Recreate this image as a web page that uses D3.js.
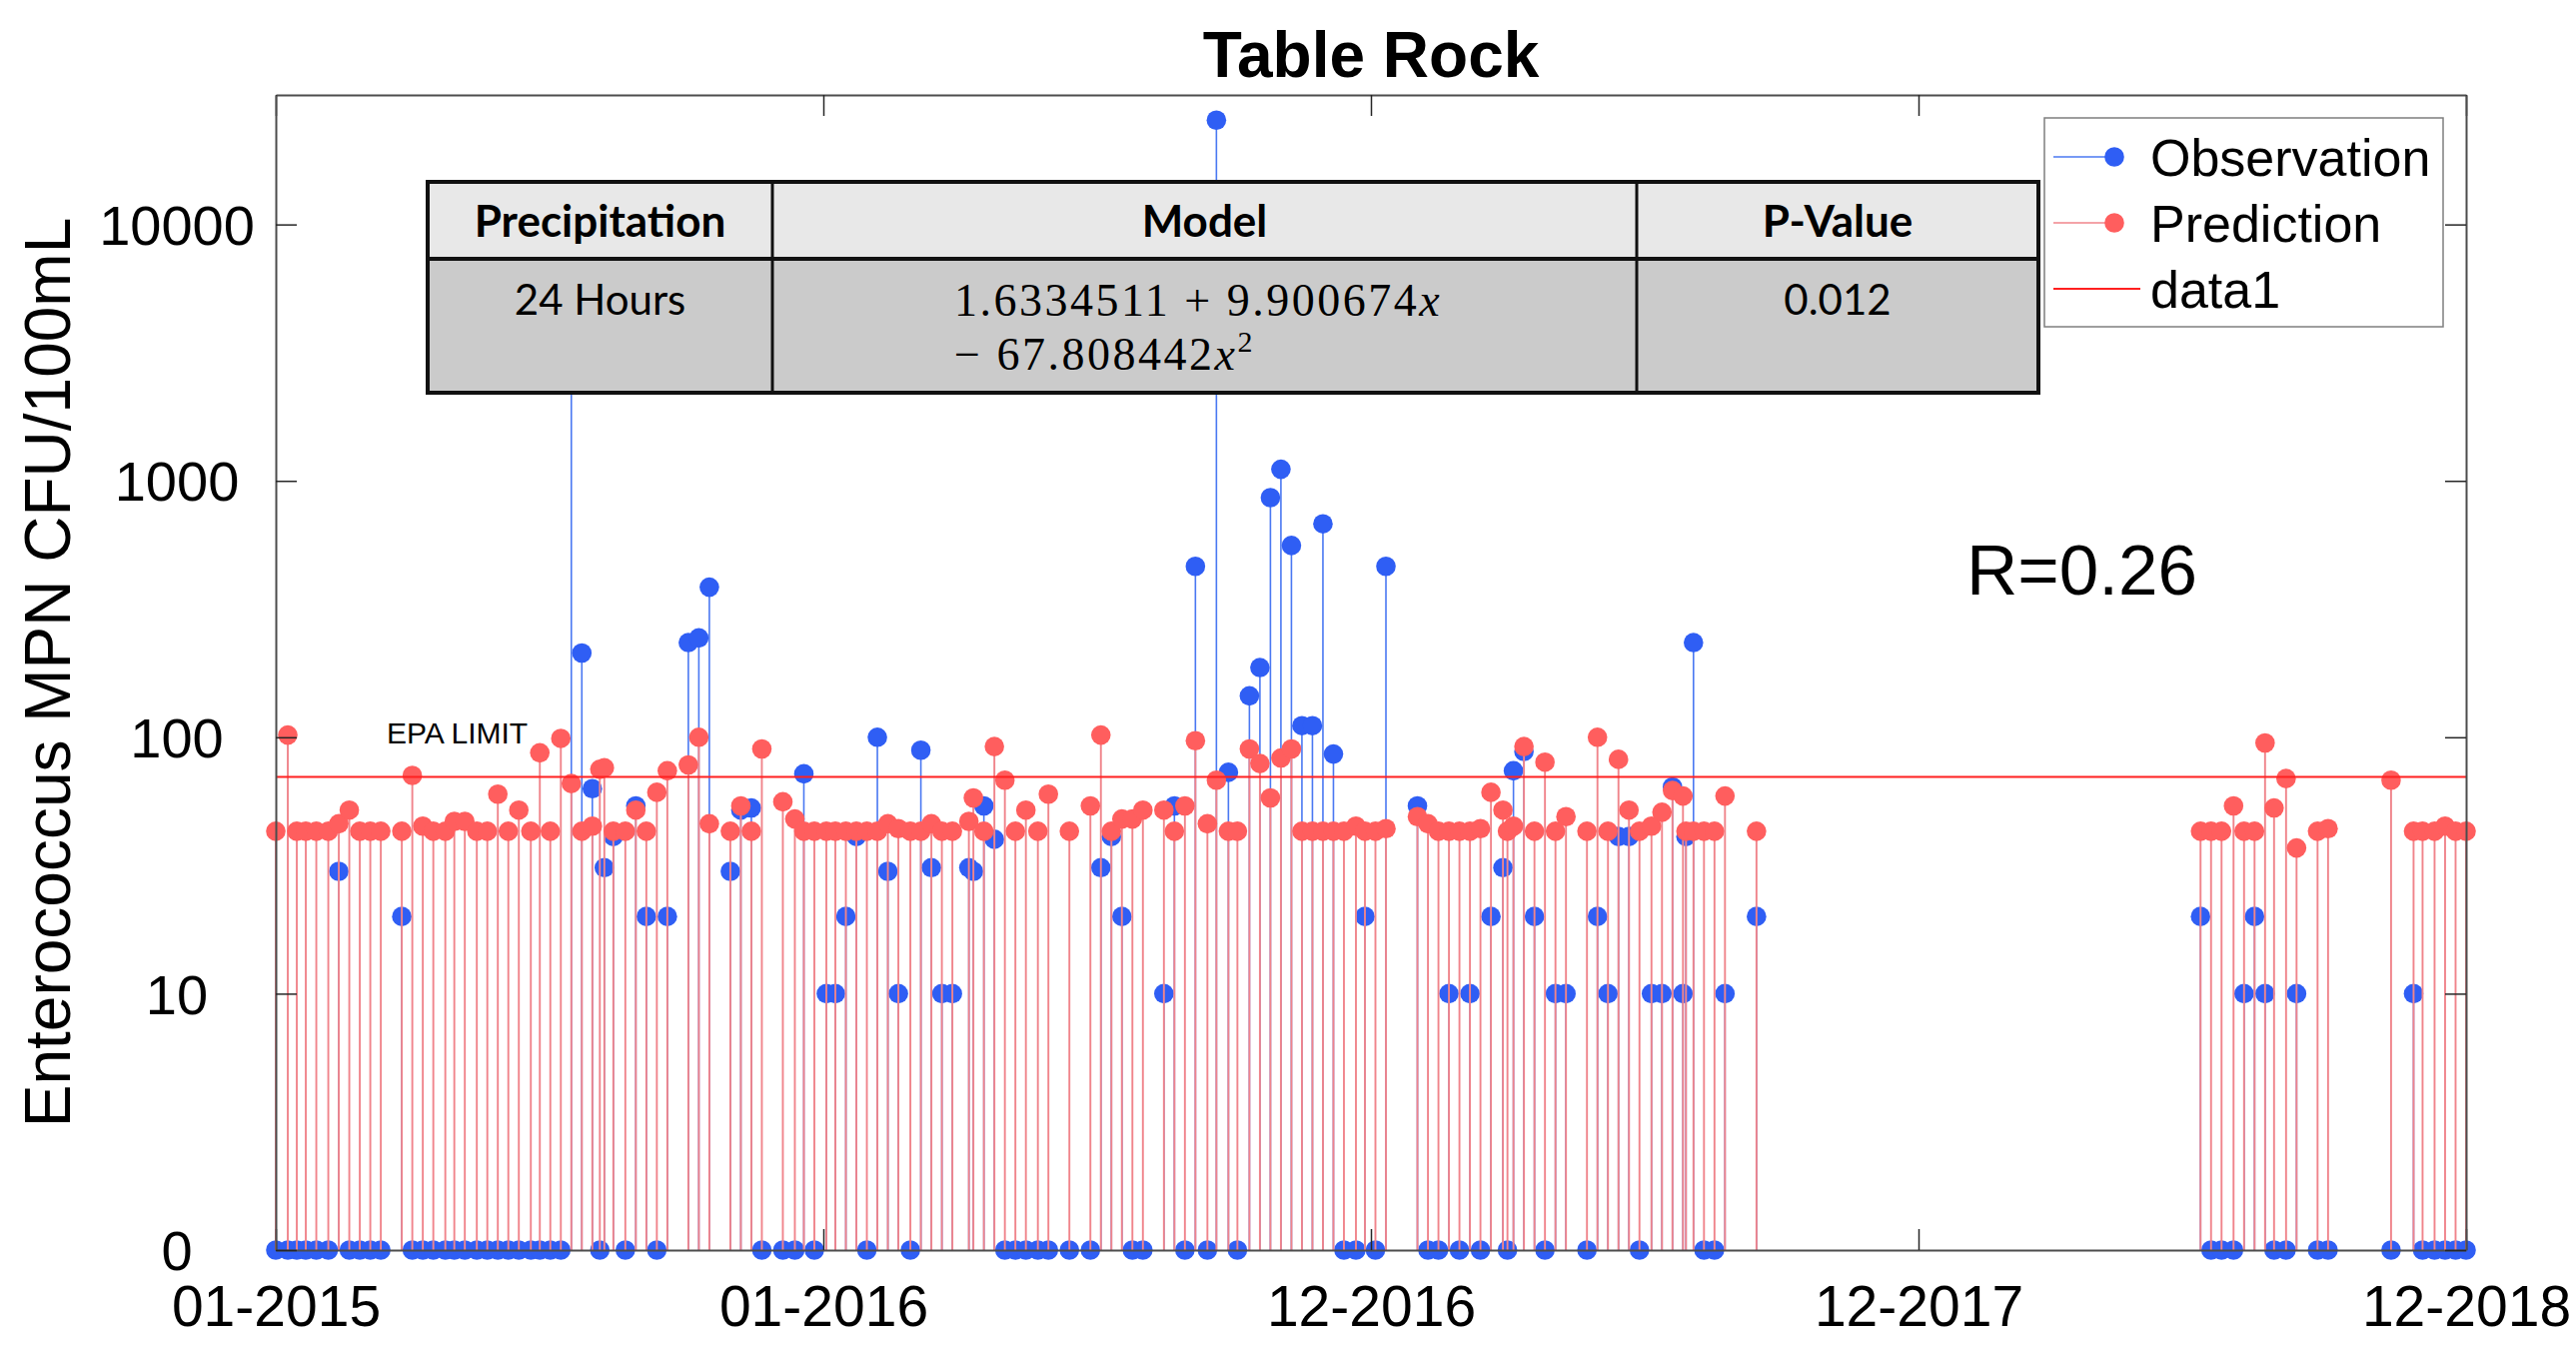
<!DOCTYPE html>
<html>
<head>
<meta charset="utf-8">
<script src="https://cdn.jsdelivr.net/npm/d3@7"></script>
<style>
  body { margin: 0; background: #fff; }
  svg { display: block; font-family: "Liberation Sans", Arial, sans-serif; }
</style>
</head>
<body>
<svg id="chart" width="2578" height="1348"></svg>
<script>
// jours d'échantillonnage (jours depuis le 01-01-2015)
var sampleDay = [
  0, 8, 14, 20, 27, 35, 42, 49, 56, 63, 70, 84, 91, 98, 105, 113, 119, 126, 134, 141,
  148, 155, 162, 170, 176, 183, 190, 197, 204, 211, 216, 219, 225, 233, 240, 247, 254, 261, 275, 282,
  289, 303, 310, 317, 324, 338, 346, 352, 359, 367, 373, 380, 387, 394, 401, 408, 415, 423, 430, 437,
  444, 451, 462, 465, 472, 479, 486, 493, 500, 508, 515, 529, 543, 550, 557, 564,
  571, 578, 592, 599, 606, 613, 621, 627, 635, 641, 649, 656, 663, 670, 677, 684, 691, 698, 705, 712,
  720, 726, 733, 740, 761, 768, 775, 782, 789, 796, 803, 810, 818, 821, 825, 832, 839, 846,
  853, 860, 874, 881, 888, 895, 902, 909, 917, 924, 931, 938, 940, 945, 952, 959, 966, 987,
  1283, 1290, 1297, 1305, 1312, 1319, 1326, 1332, 1340, 1347, 1361, 1368, 1410, 1425, 1431, 1439, 1446, 1453, 1460
];
// observations (0 = non détecté, dessiné sur la ligne de base)
var observed = [
  0, 0, 0, 0, 0, 0, 30, 0, 0, 0, 0, 20, 0, 0, 0, 0, 0, 0, 0, 0,
  0, 0, 0, 0, 0, 0, 0, 4350, 213, 63, 0, 31, 41, 0, 54, 20, 0, 20, 234, 244,
  385, 30, 52, 53, 0, 0, 0, 72, 0, 10, 10, 20, 41, 0, 100, 30, 10, 0, 89, 31,
  10, 10, 31, 30, 54, 40, 0, 0, 0, 0, 0, 0, 0, 31, 41, 20,
  0, 0, 10, 54, 0, 464, 0, 25500, 73, 0, 145, 187, 860, 1110, 560, 111, 111, 680, 86, 0,
  0, 20, 0, 464, 54, 0, 0, 10, 0, 10, 0, 20, 31, 0, 74, 88, 20, 0,
  10, 10, 0, 20, 10, 41, 41, 0, 10, 10, 64, 10, 41, 234, 0, 0, 10, 20,
  20, 0, 0, 0, 10, 20, 10, 0, 0, 10, 0, 0, 0, 10, 0, 0, 0, 0, 0
];
// prédictions du modèle
var predicted = [
  43, 102, 43, 43, 43, 43, 46, 52, 43, 43, 43, 43, 71, 45, 43, 43, 47, 47, 43, 43,
  60, 43, 52, 43, 87, 43, 99, 66, 43, 45, 75, 76, 43, 43, 52, 43, 61, 74, 78, 100,
  46, 43, 54, 43, 90, 56, 48, 43, 43, 43, 43, 43, 43, 43, 43, 46, 44, 43, 43, 46,
  43, 43, 47, 58, 43, 92, 68, 43, 52, 43, 60, 43, 54, 102, 43, 48,
  48, 52, 52, 43, 54, 97, 46, 68, 43, 43, 90, 79, 58, 83, 90, 43, 43, 43, 43, 43,
  45, 43, 43, 44, 49, 46, 43, 43, 43, 43, 44, 61, 52, 43, 45, 92, 43, 80,
  43, 49, 43, 100, 43, 82, 52, 43, 45, 51, 62, 59, 43, 43, 43, 43, 59, 43,
  43, 43, 43, 54, 43, 43, 95, 53, 69, 37, 43, 44, 68, 43, 43, 43, 45, 43, 43
];
var epaLimit = 70;
var yTicks = [1, 10, 100, 1000, 10000];
var yTickLabels = ["0", "10", "100", "1000", "10000"];
var xTickDays = [0, 365, 730, 1095, 1460];
var legendNames = ["Observation", "Prediction", "data1"];
var tableHeader = ["Precipitation", "Model", "P-Value"];
var tablePrecip = "24 Hours";
var tableModel = ["1.6334511 + 9.900674", "\u2212 67.808442"];
var tablePValue = "0.012";
var rText = "R=0.26";

var blueDot = "#2f5ef4", blueStem = "#4a78f2";
var redDot = "#ff5e5e", redStem = "#f0848b";

var L = 276, R = 2468, T = 95, B = 1251;
var svg = d3.select("#chart");
svg.append("rect").attr("width", 2578).attr("height", 1348).attr("fill", "#fff");

var t0 = new Date(Date.UTC(2015, 0, 1));
function dayDate(d) { return d3.utcDay.offset(t0, d); }
var x = d3.scaleUtc().domain([dayDate(0), dayDate(1460)]).range([L, R]);
var y = d3.scaleLog().domain([1, 32000]).range([B, T]);
function yv(v) { return y(Math.max(v, 1)); }

var pts = sampleDay.map(function (d, i) {
  return { date: dayDate(d), obs: observed[i], pred: predicted[i] };
});

// observations
var gObs = svg.append("g");
gObs.selectAll("line").data(pts).join("line")
  .attr("x1", function (d) { return x(d.date); }).attr("x2", function (d) { return x(d.date); })
  .attr("y1", B).attr("y2", function (d) { return yv(d.obs); })
  .attr("stroke", blueStem).attr("stroke-width", 1.6);
gObs.selectAll("circle").data(pts).join("circle")
  .attr("cx", function (d) { return x(d.date); }).attr("cy", function (d) { return yv(d.obs); })
  .attr("r", 9.8).attr("fill", blueDot);

// prédictions
var gPred = svg.append("g");
gPred.selectAll("line").data(pts).join("line")
  .attr("x1", function (d) { return x(d.date); }).attr("x2", function (d) { return x(d.date); })
  .attr("y1", B).attr("y2", function (d) { return yv(d.pred); })
  .attr("stroke", redStem).attr("stroke-width", 1.9);
gPred.selectAll("circle").data(pts).join("circle")
  .attr("cx", function (d) { return x(d.date); }).attr("cy", function (d) { return yv(d.pred); })
  .attr("r", 9.8).attr("fill", redDot);

// limite EPA
svg.append("line").attr("x1", L).attr("x2", R).attr("y1", y(epaLimit)).attr("y2", y(epaLimit))
  .attr("stroke", "#ff2020").attr("stroke-width", 2);

// axes
var gx = svg.append("g").attr("transform", "translate(0," + B + ")")
  .call(d3.axisBottom(x).tickValues(xTickDays.map(dayDate)).tickFormat(d3.utcFormat("%m-%Y"))
    .tickSizeInner(-21).tickSizeOuter(0).tickPadding(36));
var gxTop = svg.append("g").attr("transform", "translate(0," + T + ")")
  .call(d3.axisTop(x).tickValues(xTickDays.map(dayDate)).tickFormat("")
    .tickSizeInner(-21).tickSizeOuter(0));
var gy = svg.append("g").attr("transform", "translate(" + L + ",0)")
  .call(d3.axisLeft(y).tickValues(yTicks).tickFormat(function (d, i) { return yTickLabels[i]; })
    .tickSizeInner(-21).tickSizeOuter(0));
var gyR = svg.append("g").attr("transform", "translate(" + R + ",0)")
  .call(d3.axisRight(y).tickValues(yTicks).tickFormat("")
    .tickSizeInner(-21).tickSizeOuter(0));
[gx, gxTop, gy, gyR].forEach(function (g) {
  g.select(".domain").attr("stroke", "#4d4d4d").attr("stroke-width", 2);
  g.selectAll(".tick line").attr("stroke", "#262626").attr("stroke-width", 1.5);
});
gx.selectAll("text").attr("font-size", 57).attr("fill", "#000")
  .attr("font-family", "'Liberation Sans', Arial, sans-serif");
gy.selectAll("text").attr("font-size", 56).attr("fill", "#000")
  .attr("font-family", "'Liberation Sans', Arial, sans-serif")
  .attr("text-anchor", "middle").attr("x", 177 - L).attr("dy", "0.35em");

// titre et libellés
svg.append("text").attr("x", (L + R) / 2).attr("y", 77).attr("text-anchor", "middle")
  .attr("font-size", 64).attr("font-weight", "bold").text("Table Rock");
svg.append("text").attr("transform", "translate(70,673) rotate(-90)").attr("text-anchor", "middle")
  .attr("font-size", 64).text("Enterococcus MPN CFU/100mL");
svg.append("text").attr("x", 387).attr("y", 744).attr("font-size", 30).text("EPA LIMIT");
svg.append("text").attr("x", 1968).attr("y", 595).attr("font-size", 71).text(rText);

// tableau du modèle
var tb = svg.append("g");
var colX = [428, 773, 1638, 2040], rowY = [182, 259, 393];
tb.append("rect").attr("x", colX[0]).attr("y", rowY[0]).attr("width", colX[3] - colX[0])
  .attr("height", rowY[1] - rowY[0]).attr("fill", "#e8e8e8");
tb.append("rect").attr("x", colX[0]).attr("y", rowY[1]).attr("width", colX[3] - colX[0])
  .attr("height", rowY[2] - rowY[1]).attr("fill", "#cbcbcb");
rowY.forEach(function (yy) {
  tb.append("line").attr("x1", colX[0] - 2).attr("x2", colX[3] + 2).attr("y1", yy).attr("y2", yy)
    .attr("stroke", "#111").attr("stroke-width", 4);
});
colX.forEach(function (xx, i) {
  tb.append("line").attr("x1", xx).attr("x2", xx).attr("y1", rowY[0]).attr("y2", rowY[2])
    .attr("stroke", "#111").attr("stroke-width", (i === 0 || i === 3) ? 4 : 3);
});
tableHeader.forEach(function (h, i) {
  tb.append("text").attr("x", (colX[i] + colX[i + 1]) / 2).attr("y", 237).attr("text-anchor", "middle")
    .attr("font-family", "Lato, 'Open Sans', sans-serif").attr("font-weight", "bold")
    .attr("font-size", 44).text(h);
});
tb.append("text").attr("x", (colX[0] + colX[1]) / 2).attr("y", 315).attr("text-anchor", "middle")
  .attr("font-family", "Lato, 'Open Sans', sans-serif").attr("font-size", 42).text(tablePrecip);
tb.append("text").attr("x", (colX[2] + colX[3]) / 2).attr("y", 315).attr("text-anchor", "middle")
  .attr("font-family", "Lato, 'Open Sans', sans-serif").attr("font-size", 42).text(tablePValue);
var m1 = tb.append("text").attr("x", 955).attr("y", 316).attr("letter-spacing", 2.5)
  .attr("font-family", "'Liberation Serif', serif").attr("font-size", 46);
m1.append("tspan").text(tableModel[0]);
m1.append("tspan").attr("font-style", "italic").text("x");
var m2 = tb.append("text").attr("x", 955).attr("y", 370).attr("letter-spacing", 2.5)
  .attr("font-family", "'Liberation Serif', serif").attr("font-size", 46);
m2.append("tspan").text(tableModel[1]);
m2.append("tspan").attr("font-style", "italic").text("x");
m2.append("tspan").attr("font-size", 30).attr("dy", -18).text("2");

// légende
var lg = svg.append("g");
lg.append("rect").attr("x", 2046).attr("y", 118).attr("width", 399).attr("height", 209)
  .attr("fill", "#fff").attr("stroke", "#7f7f7f").attr("stroke-width", 1.5);
var legColors = [blueStem, redStem, "#ff2020"];
var legDots = [blueDot, redDot, null];
legendNames.forEach(function (name, i) {
  var yy = 157 + i * 66;
  lg.append("line").attr("x1", 2055).attr("x2", i === 2 ? 2142 : 2116).attr("y1", yy).attr("y2", yy)
    .attr("stroke", legColors[i]).attr("stroke-width", i === 2 ? 2 : 1.6);
  if (legDots[i]) lg.append("circle").attr("cx", 2116).attr("cy", yy).attr("r", 9.8).attr("fill", legDots[i]);
  lg.append("text").attr("x", 2152).attr("y", yy + 19).attr("font-size", 52).text(name);
});
</script>
</body>
</html>
